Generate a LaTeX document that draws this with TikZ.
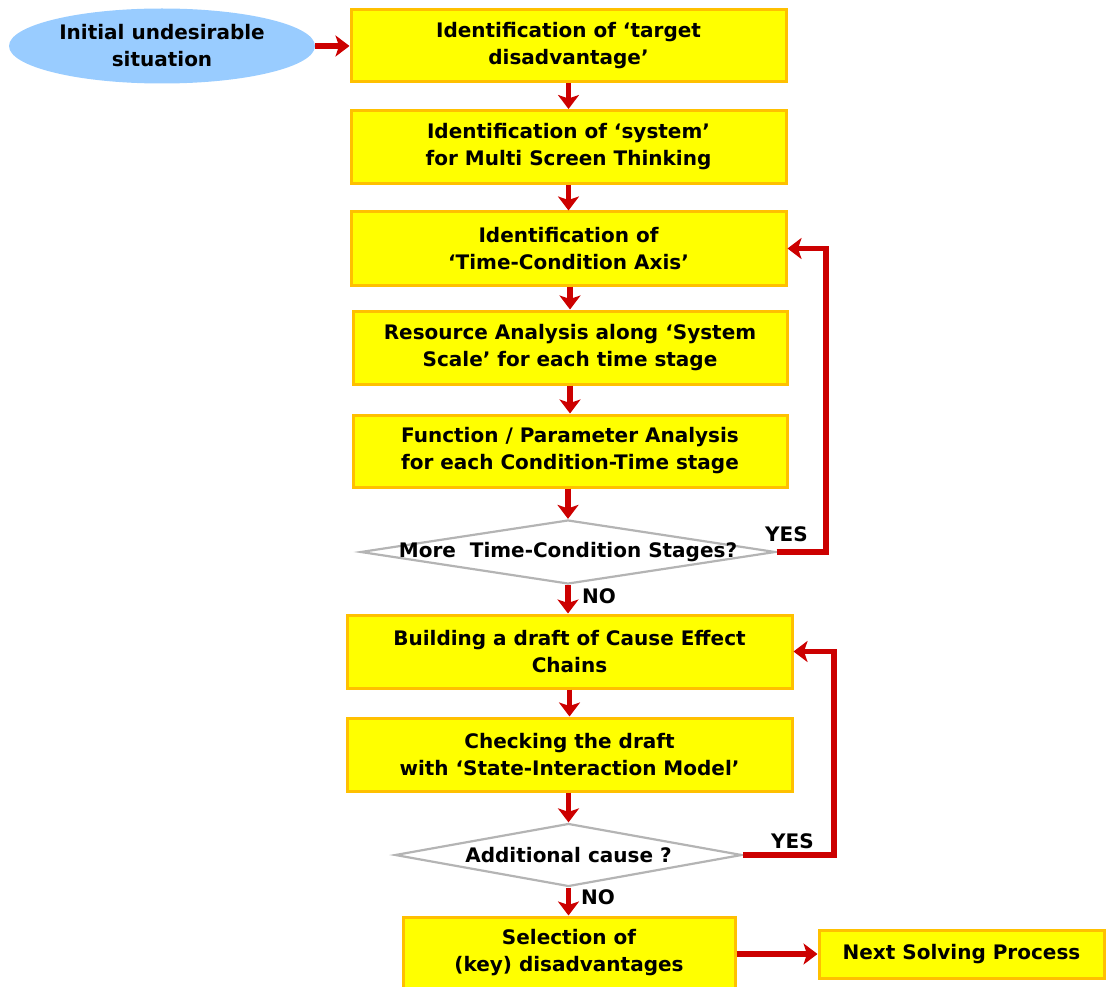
\documentclass[tikz,border=0pt]{standalone}
\usepackage{fontspec}
\setmainfont{DejaVu Sans}
\usetikzlibrary{shapes.geometric,arrows.meta}
\definecolor{boxfill}{HTML}{FFFF00}
\definecolor{boxline}{HTML}{FFC000}
\definecolor{flowred}{HTML}{CC0000}
\definecolor{startblue}{HTML}{99CCFF}
\definecolor{decline}{HTML}{B4B4B4}
\tikzset{
  labelfont/.style={font=\bfseries\fontsize{20}{27}\selectfont},
  stepbox/.style={draw=boxline, fill=boxfill, line width=3pt, rectangle,
    inner sep=0pt, align=center, labelfont},
  startnode/.style={ellipse, fill=startblue, inner sep=0pt, align=center,
    minimum width=306pt, minimum height=75pt, labelfont},
  decision/.style={diamond, draw=decline, fill=white, line width=2.2pt, inner sep=0pt},
  dectext/.style={inner sep=0pt, labelfont},
  tag/.style={inner sep=0pt, labelfont},
  flow/.style={draw=flowred, line width=5.5pt,
    -{Stealth[width=21pt,length=14pt,inset=3.5pt]}},
}
\begin{document}
\begin{tikzpicture}[x=1pt,y=-1pt]
\useasboundingbox (0,0) rectangle (1106,987);

\node[startnode] (start) at (162,46) {Initial undesirable\\situation};

\node[stepbox, minimum width=435pt, minimum height=72pt] (b1) at (568.5,46)
  {Identification of ‘target\\disadvantage’};
\node[stepbox, minimum width=435pt, minimum height=73pt] (b2) at (568.5,147)
  {Identification of ‘system’\\for Multi Screen Thinking};
\node[stepbox, minimum width=435pt, minimum height=73pt] (b3) at (568.5,248.5)
  {Identification of\\‘Time-Condition Axis’};
\node[stepbox, minimum width=434pt, minimum height=73pt] (b4) at (570,347.5)
  {Resource Analysis along ‘System\\Scale’ for each time stage};
\node[stepbox, minimum width=434pt, minimum height=72pt] (b5) at (570,451)
  {Function / Parameter Analysis\\for each Condition-Time stage};

\node[decision, minimum width=415pt, minimum height=64pt] (d1) at (568,552) {};
\node[dectext] (d1t) at (568,552) {More\ \ Time-Condition Stages?};

\node[stepbox, minimum width=445pt, minimum height=73pt] (b6) at (569.5,651.5)
  {Building a draft of Cause Effect\\Chains};
\node[stepbox, minimum width=445pt, minimum height=73pt] (b7) at (569.5,754.5)
  {Checking the draft\\with ‘State-Interaction Model’};

\node[decision, minimum width=347pt, minimum height=63pt] (d2) at (568.5,855) {};
\node[dectext] (d2t) at (568.5,855) {Additional cause ?};

\node[stepbox, minimum width=332pt, minimum height=72pt] (b8) at (569,953)
  {Selection of\\(key) disadvantages};
\node[stepbox, minimum width=285pt, minimum height=48pt] (next) at (961.5,954)
  {Next Solving Process};

% main flow
\draw[flow] (start.east) -- (start.east -| b1.west);
\draw[flow] (b1) -- (b2);
\draw[flow] (b2) -- (b3);
\draw[flow] (b3.south -| b4) -- (b4);
\draw[flow] (b4) -- (b5);
\draw[flow] (b5.south -| d1) -- (d1.north);
\draw[flow] (d1.south) -- (b6.north -| d1);
\draw[flow] (b6) -- (b7);
\draw[flow] (b7.south -| d2) -- (d2.north);
\draw[flow] (d2.south) -- (b8.north -| d2);
\draw[flow] (b8.east |- next) -- (next.west);

% loops back
\draw[flow] (d1.east) -- (826,552) |- (b3.east);
\draw[flow] (d2.east) -- (834,855) |- (b6.east);

% branch labels
\node[tag, anchor=south west] (yes1) at (765,542) {YES};
\node[tag, anchor=west] (no1) at (582,596) {NO};
\node[tag, anchor=south west] (yes2) at (771,849) {YES};
\node[tag, anchor=west] (no2) at (581,897) {NO};
\end{tikzpicture}
\end{document}
